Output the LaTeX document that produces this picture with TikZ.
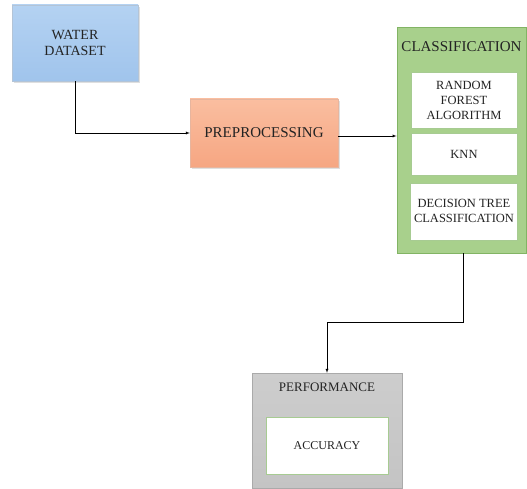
\documentclass[tikz,border=0pt]{standalone}
\usepackage{fontspec}
\setmainfont{Liberation Serif}
\usetikzlibrary{arrows, positioning, shapes, shadows}
\definecolor{waterblue}{RGB}{160,196,236}
\definecolor{waterblueb}{RGB}{180,210,242}
\definecolor{preporange}{RGB}{246,166,130}
\definecolor{preporangeb}{RGB}{250,190,160}
\definecolor{classgreen}{RGB}{168,208,140}
\definecolor{classedge}{RGB}{130,180,100}
\definecolor{perfgray}{RGB}{196,196,196}
\definecolor{perfedge}{RGB}{170,170,170}
\definecolor{textgray}{RGB}{35,35,35}
\tikzset{
    bluenode/.style={rectangle, draw=waterblue!80!black!60, top color=waterblueb, bottom color=waterblue, thin, drop shadow={opacity=0.25, shadow xshift=2pt, shadow yshift=-2pt}, text centered, align=center, text=textgray},
    orangenode/.style={rectangle, draw=preporange!90!black!70, top color=preporangeb, bottom color=preporange, thin, drop shadow={opacity=0.25, shadow xshift=2pt, shadow yshift=-2pt}, text centered, align=center, text=textgray},
    greennode/.style={rectangle, draw=classedge, fill=classgreen, thick},
    graynode/.style={rectangle, draw=perfedge, top color=perfgray!85, bottom color=perfgray, thin},
    innernode/.style={rectangle, draw=classedge!70, fill=white, thin, text centered, align=center, text=textgray},
    mytitle/.style={anchor=north, text=textgray, inner sep=0pt},
    myarrow/.style={-latex, thin, black}
}
\begin{document}
\begin{tikzpicture}[x=1pt, y=-1pt]
        \useasboundingbox[fill=white] (0,0) rectangle (527,489);

        % ------------------
        % nodes
        % ------------------

        \node[bluenode, minimum width=126pt, minimum height=76pt, font=\fontsize{14}{16}\selectfont] (water) at (75,43) {WATER\\DATASET};

        \node[orangenode, minimum width=148pt, minimum height=68pt, font=\fontsize{15}{17}\selectfont] (prep) at (264,133) {PREPROCESSING};

        \node[greennode, minimum width=129pt, minimum height=226pt] (class) at (461.5,140) {};
        \node[mytitle, font=\fontsize{15}{17}\selectfont] (classtitle) at ([yshift=-15pt]class.north) {CLASSIFICATION};
        \node[innernode, minimum width=106pt, minimum height=56pt, font=\fontsize{12.5}{15}\selectfont] (rf) at (464,100) {RANDOM\\FOREST\\ALGORITHM};
        \node[innernode, minimum width=106pt, minimum height=42pt, font=\fontsize{12.5}{15}\selectfont, below=5pt of rf] (knn) {KNN};
        \node[innernode, minimum width=106pt, minimum height=57pt, font=\fontsize{12.5}{15}\selectfont, below=7pt of knn] (dt) {DECISION TREE\\CLASSIFICATION};

        \node[graynode, minimum width=150pt, minimum height=115pt] (perf) at (327,430.5) {};
        \node[mytitle, font=\fontsize{13}{15}\selectfont] (perftitle) at ([yshift=-10pt]perf.north) {PERFORMANCE};
        \node[innernode, minimum width=122pt, minimum height=57pt, font=\fontsize{12}{14}\selectfont] (acc) at (327,445.5) {ACCURACY};

        % ------------------
        % arrows
        % ------------------

        \draw[myarrow] (water.south) |- (prep.west);
        \draw[myarrow] ([yshift=-3pt]prep.east) -- ([yshift=-3pt]class.west |- prep.east);
        \draw[myarrow] ([xshift=1.5pt]class.south) -- ++(0,69) -| (perf.north);

    \end{tikzpicture}
\end{document}
